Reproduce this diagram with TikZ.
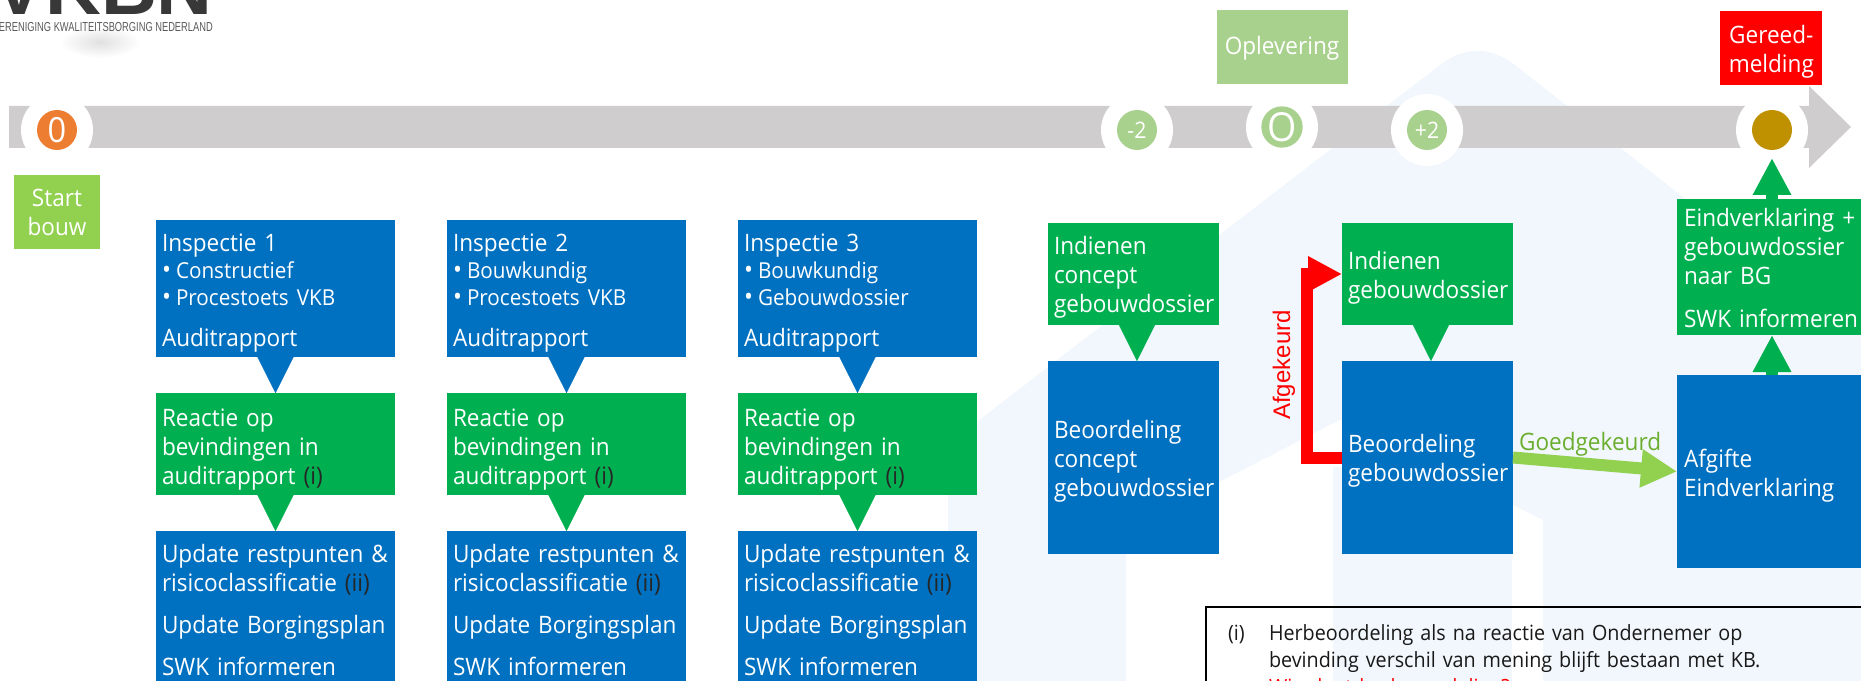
\documentclass[tikz,border=0pt]{standalone}
\usepackage{fontspec}
\setmainfont[FakeStretch=0.94]{Open Sans}
\newfontfamily\arialfont{Liberation Sans}
\usetikzlibrary{positioning,arrows.meta}
\definecolor{stepblue}{HTML}{0070C0}
\definecolor{stepgreen}{HTML}{00B050}
\definecolor{limegreen}{HTML}{92D050}
\definecolor{palegreen}{HTML}{A9D18E}
\definecolor{barbrey}{HTML}{CFCDCE}
\definecolor{housetint}{HTML}{F1F7FC}
\definecolor{startorange}{HTML}{ED7D31}
\definecolor{endgold}{HTML}{BF9000}
\definecolor{okgreen}{HTML}{6BAE2E}
\newcommand{\auditpoint}[1]{{\fontsize{16.5}{20}\selectfont\makebox[10.5pt][l]{\fontsize{19}{20}\selectfont •}#1}}
\newcommand{\darkref}[1]{\textcolor{black!85}{#1}}
\newcommand{\drop}[1]{\rule{0pt}{\dimexpr13.7pt+#1\relax}}
\tikzset{
	stepbox/.style={rectangle,text=white,outer sep=0pt,inner ysep=0pt,inner xsep=4.5pt,align=left,
		font=\fontsize{18}{21.75}\selectfont},
	wide/.style={stepbox,text width=170.25pt},
	narrow/.style={stepbox,text width=119.25pt},
	open/.style={stepbox,inner xsep=5.25pt,text width=139.5pt},
	milestone/.style={stepbox,align=center,minimum height=55.5pt},
	halo/.style={circle,fill=white,minimum size=54pt,inner sep=0pt,outer sep=0pt},
	dot/.style={circle,text=white,minimum size=30pt,inner sep=0pt,outer sep=0pt},
	tip/.style={line width=0.1pt,-{Triangle[length=27pt,width=27pt]}},
	upflow/.style={stepgreen,line width=9pt,-{Triangle[length=27.75pt,width=27pt]}},
}
\begin{document}
\begin{tikzpicture}[x=0.75pt,y=-0.75pt]
	\useasboundingbox (0,0) rectangle (1861,681);
	\clip (0,0) rectangle (1861,681);

	\fill[housetint] (948,681) -- (948,444) -- (1440,65) .. controls (1465,46) and (1490,46) .. (1515,65)
		-- (1861,337) -- (1861,681) -- cycle;
	\fill[white] (1126,681) -- (1126,530) -- (1340,420) -- (1543,520) -- (1543,681) -- (1512,681)
		-- (1512,500) -- (1342,467) -- (1333,467) -- (1333,681) -- cycle;

	\shade[inner color=black!12,outer color=white] (100,42) ellipse [x radius=30pt,y radius=12pt];
	\node[anchor=base east,text=black!78,inner sep=0pt,font=\arialfont\bfseries\fontsize{58}{58}\selectfont] (vkbn) at (213,15) {VKBN};
	\node[anchor=base east,text=black!65,inner sep=0pt,font=\arialfont\fontsize{9.75}{10}\selectfont] (vkbnsub) at (213,32)
		{\resizebox{165pt}{\height}{VERENIGING KWALITEITSBORGING NEDERLAND}};

	\fill[barbrey] (9,106) -- (1809,106) -- (1809,86) -- (1851,127) -- (1809,168) -- (1809,148) -- (9,148) -- cycle;

	\node[halo] (h0) at (57,130) {};
	\node[halo] (hm2) at (1137,130) {};
	\node[halo] (hO) at (1282,127) {};
	\node[halo] (hp2) at (1427,130) {};
	\node[halo] (hend) at (1772,130) {};
	\node[dot,fill=startorange,font=\fontsize{26}{26}\selectfont] (d0) at (h0) {0};
	\node[dot,fill=palegreen,font=\fontsize{17}{17}\selectfont] (dm2) at (hm2) {-2};
	\node[dot,fill=palegreen,font=\fontsize{30}{30}\selectfont] (dO) at (hO) {O};
	\node[dot,fill=palegreen,font=\fontsize{17}{17}\selectfont] (dp2) at (hp2) {+2};
	\node[dot,fill=endgold] (dend) at (hend) {};

	\node[milestone,fill=limegreen,below=18.75pt of d0,minimum width=64.5pt] (start) {Start\\bouw};
	\node[milestone,fill=palegreen,above=16.5pt of dO,minimum width=98.25pt] (oplev) {\drop{2pt}Oplevering};
	\node[milestone,fill=red,above=18.75pt of dend,minimum width=76.5pt,xshift=-0.5pt] (gereed) {\drop{5pt}Gereed-\\melding};

	\node[wide,fill=stepblue,minimum height=102.75pt,anchor=north west] (ins1) at (156,220)
		{\drop{7pt}Inspectie 1\\[-1.5pt]\auditpoint{Constructief}\\[-1.5pt]\auditpoint{Procestoets VKB}\\[9pt]Auditrapport};
	\node[wide,fill=stepblue,minimum height=102.75pt,right=39pt of ins1] (ins2)
		{\drop{7pt}Inspectie 2\\[-1.5pt]\auditpoint{Bouwkundig}\\[-1.5pt]\auditpoint{Procestoets VKB}\\[9pt]Auditrapport};
	\node[wide,fill=stepblue,minimum height=102.75pt,right=39pt of ins2] (ins3)
		{\drop{7pt}Inspectie 3\\[-1.5pt]\auditpoint{Bouwkundig}\\[-1.5pt]\auditpoint{Gebouwdossier}\\[9pt]Auditrapport};

	\node[wide,fill=stepgreen,minimum height=76.5pt,below=27pt of ins1] (rea1) {\drop{7.5pt}Reactie op\\bevindingen in\\auditrapport \darkref{(i)}};
	\node[wide,fill=stepgreen,minimum height=76.5pt,below=27pt of ins2] (rea2) {\drop{7.5pt}Reactie op\\bevindingen in\\auditrapport \darkref{(i)}};
	\node[wide,fill=stepgreen,minimum height=76.5pt,below=27pt of ins3] (rea3) {\drop{7.5pt}Reactie op\\bevindingen in\\auditrapport \darkref{(i)}};

	\node[wide,fill=stepblue,minimum height=118.5pt,below=27pt of rea1] (upd1)
		{\mbox{Update restpunten \&}\\risicoclassificatie \darkref{(ii)}\\[9.75pt]Update Borgingsplan\\[9.75pt]SWK informeren};
	\node[wide,fill=stepblue,minimum height=118.5pt,below=27pt of rea2] (upd2)
		{\mbox{Update restpunten \&}\\risicoclassificatie \darkref{(ii)}\\[9.75pt]Update Borgingsplan\\[9.75pt]SWK informeren};
	\node[wide,fill=stepblue,minimum height=118.5pt,below=27pt of rea3] (upd3)
		{\mbox{Update restpunten \&}\\risicoclassificatie \darkref{(ii)}\\[9.75pt]Update Borgingsplan\\[9.75pt]SWK informeren};

	\node[narrow,fill=stepgreen,minimum height=76.5pt,anchor=north west] (con1) at (1048,223) {\drop{5.4pt}Indienen\\concept\\gebouwdossier};
	\node[narrow,fill=stepblue,minimum height=144.75pt,below=27pt of con1] (beo1) {\drop{5.4pt}Beoordeling\\concept\\gebouwdossier};
	\node[narrow,fill=stepgreen,minimum height=76.5pt,right=92.25pt of con1] (ind2) {\drop{5.4pt}Indienen\\gebouwdossier};
	\node[narrow,fill=stepblue,minimum height=144.75pt,below=27pt of ind2] (beo2) {\drop{5.4pt}Beoordeling\\gebouwdossier};

	\node[open,fill=stepblue,minimum height=144.75pt,anchor=north west] (afg) at (1677,375) {\drop{7pt}Afgifte\\Eindverklaring};
	\node[open,fill=stepgreen,minimum height=102pt,above=30pt of afg] (eind)
		{\drop{2pt}Eindverklaring +\\gebouwdossier\\naar BG\\[10.5pt]SWK informeren};

	\coordinate[left=26pt of ind2.west] (rail);
	\node[rotate=90,text=red,inner sep=0pt,font=\arialfont\fontsize{18}{18}\selectfont] (afgek) at (1284,365) {Afgekeurd};

	\node[draw=black,line width=2pt,anchor=north west,outer sep=0pt,inner xsep=16.5pt,inner ysep=13pt,align=left,text width=700pt,
		text=black!90,font=\fontsize{15.75}{20.25}\selectfont] (note) at (1206,607)
		{\makebox[30.75pt][l]{(i)}Herbeoordeling als na reactie van Ondernemer op\\
		\hspace*{30.75pt}bevinding verschil van mening blijft bestaan met KB.\\
		\hspace*{30.75pt}\textcolor{red}{Wie doet herbeoordeling?}};

	\draw[stepblue,tip] (ins1) -- (rea1);
	\draw[stepblue,tip] (ins2) -- (rea2);
	\draw[stepblue,tip] (ins3) -- (rea3);
	\draw[stepgreen,tip] (rea1) -- (upd1);
	\draw[stepgreen,tip] (rea2) -- (upd2);
	\draw[stepgreen,tip] (rea3) -- (upd3);
	\draw[stepgreen,tip] ([xshift=2.6pt]con1.south) -- ([xshift=2.6pt]beo1.north);
	\draw[stepgreen,tip] ([xshift=2.6pt]ind2.south) -- ([xshift=2.6pt]beo2.north);
	\draw[upflow] (afg.north -| dend.south) -- (eind.south -| dend.south);
	\draw[upflow,shorten >=6pt] (eind.north -| dend.south) -- (dend.south);
	\draw[red,line width=9pt,-{Triangle[length=25.5pt,width=25pt]}] (beo2.west) -| (rail) -- (ind2.west);
	\draw[limegreen,line width=9pt,-{Triangle[length=27pt,width=27pt]}] (beo2.east) -- (afg.west)
		node[pos=0.47,yshift=15pt,text=okgreen,font=\fontsize{18}{18}\selectfont] (goed) {Goedgekeurd};
\end{tikzpicture}
\end{document}
